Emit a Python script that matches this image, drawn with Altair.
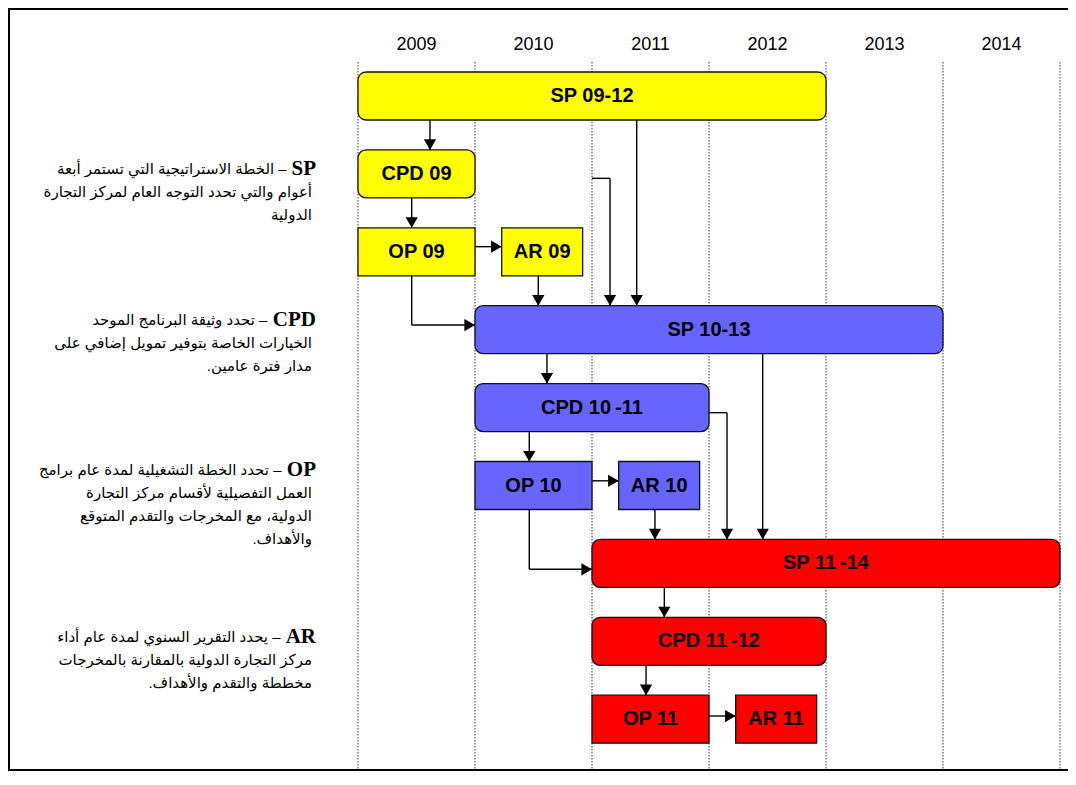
import altair as alt
import pandas as pd

W, H = 1060, 763

# ---------------- data ----------------
year_labels = ["2009", "2010", "2011", "2012", "2013", "2014"]
year_starts = [2009, 2010, 2011, 2012, 2013, 2014]
grid_years = [2009, 2010, 2011, 2012, 2013, 2014, 2015]

box_labels = ["SP 09-12", "CPD 09", "OP 09", "AR 09",
              "SP 10-13", "CPD 10\u2009-11", "OP 10", "AR 10",
              "SP 11\u2009-14", "CPD 11\u2009-12", "OP 11", "AR 11"]
box_start = [2009, 2009, 2009, 2010.228, 2010, 2010, 2010, 2011.228, 2011, 2011, 2011, 2012.228]
box_end = [2013, 2010, 2010, 2010.92, 2014, 2012, 2011, 2011.92, 2015, 2013, 2012, 2012.92]
box_row = [0, 1, 2, 2, 3, 4, 5, 5, 6, 7, 8, 8]
box_kind = ["SP", "CPD", "OP", "AR"] * 3
box_cycle = ["2009"] * 4 + ["2010"] * 4 + ["2011"] * 4

cycle_names = ["2009", "2010", "2011"]
cycle_colors = ["#FFFF00", "#6666FF", "#FF0000"]

# connectors: x from, x to, row from, row to, arrow head at end
seg_x = [2009.615, 2009.459, 2010.0, 2010.541, 2009.459, 2009.459, 2011.0, 2011.154, 2011.382,
         2010.615, 2010.464, 2011.0, 2011.538, 2010.464, 2010.464, 2012.0, 2012.154, 2012.459,
         2011.618, 2011.462, 2012.0]
seg_x2 = [2009.615, 2009.459, 2010.228, 2010.541, 2009.459, 2010.0, 2011.154, 2011.154, 2011.382,
          2010.615, 2010.464, 2011.228, 2011.538, 2010.464, 2011.0, 2012.154, 2012.154, 2012.459,
          2011.618, 2011.462, 2012.228]
seg_r = [0.308, 1.308, 1.934, 2.308, 2.308, 2.940, 1.057, 1.057, 0.308,
         3.308, 4.308, 4.940, 5.308, 5.308, 6.076, 4.065, 4.065, 3.308,
         6.308, 7.308, 7.959]
seg_r2 = [0.692, 1.692, 1.934, 2.692, 2.940, 2.940, 1.057, 2.692, 2.692,
          3.692, 4.692, 4.940, 5.692, 6.076, 6.076, 4.065, 5.692, 5.692,
          6.692, 7.692, 7.959]
seg_head = ["down", "down", "right", "down", "", "right", "", "down", "down",
            "down", "down", "right", "down", "", "right", "", "down", "down",
            "down", "down", "right"]

note_keys = ["SP", "CPD", "OP", "AR"]
note_lines = [
    ["– الخطة الاستراتيجية التي تستمر أبعة",
     "أعوام والتي تحدد التوجه العام لمركز التجارة",
     "الدولية"],
    ["– تحدد وثيقة البرنامج الموحد",
     "الخيارات الخاصة بتوفير تمويل إضافي على",
     "مدار فترة عامين."],
    ["– تحدد الخطة التشغيلية لمدة عام برامج",
     "العمل التفصيلية لأقسام مركز التجارة",
     "الدولية، مع المخرجات والتقدم المتوقع",
     "والأهداف."],
    ["– يحدد التقرير السنوي لمدة عام أداء",
     "مركز التجارة الدولية بالمقارنة بالمخرجات",
     "مخططة والتقدم والأهداف."],
]

# ---------------- layout (positions in the chart's own units) ----------------
HALF = 0.308                      # half box height in rows
X_DOM = [2006.0085, 2015.0684]
Y_DOM = [-1.1297, 8.6649]
YEAR_ROW = -0.655
GRID_TOP, GRID_BOT = -0.436, 8.64
note_first_row = [0.937, 2.875, 4.801, 6.945]
note_step = 0.297
key_right = 2008.641
line_right = 2008.607
first_line_right = [2008.39, 2008.226, 2008.346, 2008.338]

xs = alt.Scale(domain=X_DOM, nice=False, zero=False)
ys = alt.Scale(domain=Y_DOM, nice=False, zero=False, reverse=True)

SANS = "Liberation Sans, Arial, sans-serif"
ARABIC = "Liberation Sans, DejaVu Sans, sans-serif"

# ---------------- tables ----------------
boxes = pd.DataFrame({
    "label": box_labels, "start": box_start, "end": box_end,
    "row": box_row, "kind": box_kind, "cycle": box_cycle,
})
boxes["top"] = boxes["row"] - HALF
boxes["bottom"] = boxes["row"] + HALF
boxes["mid"] = (boxes["start"] + boxes["end"]) / 2
boxes["rounded"] = boxes["kind"].isin(["SP", "CPD"])

segs = pd.DataFrame({"x": seg_x, "x2": seg_x2, "r": seg_r, "r2": seg_r2, "head": seg_head})

years_df = pd.DataFrame({"label": year_labels, "x": [y + 0.5 for y in year_starts], "r": YEAR_ROW})
grid_df = pd.DataFrame({"x": grid_years, "r": GRID_TOP, "r2": GRID_BOT})

rows = []
for i, lines in enumerate(note_lines):
    for j, t in enumerate(lines):
        rows.append({
            "text": "\u200f" + t + "\u200f",
            "x": first_line_right[i] if j == 0 else line_right,
            "r": note_first_row[i] + j * note_step,
        })
notes_df = pd.DataFrame(rows)
keys_df = pd.DataFrame({"text": note_keys, "x": key_right, "r": note_first_row})

color = alt.Color("cycle:N", scale=alt.Scale(domain=cycle_names, range=cycle_colors), legend=None)

# ---------------- layers ----------------
grid = alt.Chart(grid_df).mark_rule(color="#777777", strokeWidth=1.5, strokeDash=[1.5, 1.5]).encode(
    x=alt.X("x:Q", scale=xs, axis=None), y=alt.Y("r:Q", scale=ys, axis=None), y2="r2:Q")

year_text = alt.Chart(years_df).mark_text(font=SANS, fontSize=18, color="black", baseline="middle").encode(
    x=alt.X("x:Q", scale=xs, axis=None), y=alt.Y("r:Q", scale=ys, axis=None), text="label:N")

lines = alt.Chart(segs).mark_rule(color="black", strokeWidth=1.4).encode(
    x=alt.X("x:Q", scale=xs, axis=None), x2="x2:Q",
    y=alt.Y("r:Q", scale=ys, axis=None), y2="r2:Q")

heads_down = alt.Chart(segs).transform_filter("datum.head == 'down'").mark_point(
    shape="triangle-down", filled=True, size=150, color="black", opacity=1, yOffset=-5.3).encode(
    x=alt.X("x2:Q", scale=xs, axis=None), y=alt.Y("r2:Q", scale=ys, axis=None))

heads_right = alt.Chart(segs).transform_filter("datum.head == 'right'").mark_point(
    shape="triangle-right", filled=True, size=150, color="black", opacity=1, xOffset=-5.3).encode(
    x=alt.X("x2:Q", scale=xs, axis=None), y=alt.Y("r2:Q", scale=ys, axis=None))

def box_layer(rounded, radius):
    return alt.Chart(boxes).transform_filter(
        "datum.rounded" if rounded else "!datum.rounded").mark_rect(
        cornerRadius=radius, stroke="#111111", strokeWidth=1.3).encode(
        x=alt.X("start:Q", scale=xs, axis=None), x2="end:Q",
        y=alt.Y("top:Q", scale=ys, axis=None), y2="bottom:Q",
        fill=color)

box_round = box_layer(True, 8)
box_square = box_layer(False, 0)

box_text = alt.Chart(boxes).mark_text(font=SANS, fontSize=20, fontWeight="bold", color="black",
                                     baseline="middle").encode(
    x=alt.X("mid:Q", scale=xs, axis=None), y=alt.Y("row:Q", scale=ys, axis=None), text="label:N")

note_text = alt.Chart(notes_df).mark_text(font=ARABIC, fontSize=15, color="black", align="right",
                                         baseline="middle").encode(
    x=alt.X("x:Q", scale=xs, axis=None), y=alt.Y("r:Q", scale=ys, axis=None), text="text:N")

key_text = alt.Chart(keys_df).mark_text(font="Liberation Serif, Times New Roman, serif", fontSize=21,
                                       fontWeight="bold", color="black", align="right",
                                       baseline="middle").encode(
    x=alt.X("x:Q", scale=xs, axis=None), y=alt.Y("r:Q", scale=ys, axis=None), text="text:N")

one = pd.DataFrame({"a": [0]})
frame_left = alt.Chart(one).mark_rule(color="black", strokeWidth=2).encode(
    x=alt.value(1), y=alt.value(0), y2=alt.value(H))
frame_top = alt.Chart(one).mark_rule(color="black", strokeWidth=2).encode(
    y=alt.value(1), x=alt.value(0), x2=alt.value(W))
frame_bottom = alt.Chart(one).mark_rule(color="black", strokeWidth=2).encode(
    y=alt.value(H - 1), x=alt.value(0), x2=alt.value(W))

chart = alt.layer(
    grid, year_text, lines, heads_down, heads_right, box_round, box_square, box_text,
    note_text, key_text, frame_left, frame_top, frame_bottom
).properties(
    width=W, height=H, padding=0, autosize=alt.AutoSizeParams(type="none"), background="white"
).configure_view(stroke=None)

chart.save("out.html", embed_options={"renderer": "svg", "actions": False})
